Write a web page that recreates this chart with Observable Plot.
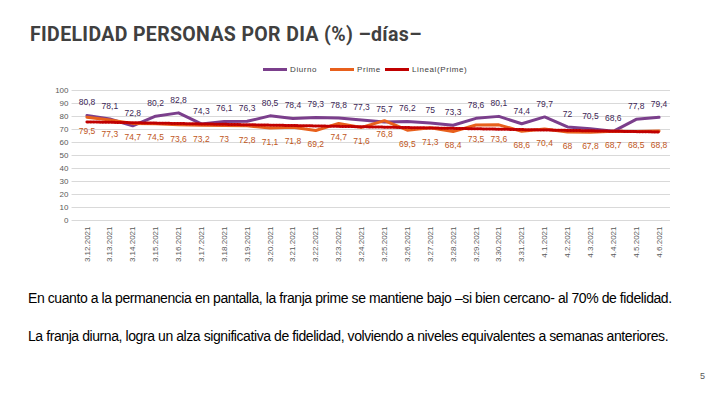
<!DOCTYPE html>
<html><head><meta charset="utf-8">
<script src="https://cdn.jsdelivr.net/npm/d3@7"></script>
<script src="https://cdn.jsdelivr.net/npm/@observablehq/plot@0.6"></script>
<style>
body{margin:0;background:#fff;width:720px;height:405px;position:relative;overflow:hidden;font-family:"Liberation Sans",Arial,sans-serif;}
#title{position:absolute;left:30px;top:23px;font-family:Roboto,"Liberation Sans",sans-serif;font-weight:700;font-size:19.5px;color:#404040;letter-spacing:0.35px;}
#legend{position:absolute;top:65px;left:0;width:720px;font-size:8px;color:#404040;letter-spacing:0.6px;}
.lg{position:absolute;display:flex;align-items:center;}
.sw{display:inline-block;width:24px;height:3px;margin-right:3px;}
#chart{position:absolute;left:0;top:80px;}
.p{position:absolute;left:28px;font-size:14px;color:#000;letter-spacing:-0.42px;}
#pg{position:absolute;left:700px;top:371px;font-size:9px;color:#595959;}
</style></head><body>
<div id="title">FIDELIDAD PERSONAS POR DIA (%) –días–</div>
<div id="legend">
<div class="lg" style="left:263px"><span class="sw" style="background:#7b3f8c"></span>Diurno</div>
<div class="lg" style="left:330px"><span class="sw" style="background:#e8601c"></span>Prime</div>
<div class="lg" style="left:385px"><span class="sw" style="background:#c00000"></span>Lineal(Prime)</div>
</div>
<div id="chart"></div>
<div class="p" style="top:290px">En cuanto a la permanencia en pantalla, la franja prime se mantiene bajo –si bien cercano- al 70% de fidelidad.</div>
<div class="p" style="top:328px">La franja diurna, logra un alza significativa de fidelidad, volviendo a niveles equivalentes a semanas anteriores.</div>
<div id="pg">5</div>
<script>
const dates = ["3.12.2021","3.13.2021","3.14.2021","3.15.2021","3.16.2021","3.17.2021","3.18.2021","3.19.2021","3.20.2021","3.21.2021","3.22.2021","3.23.2021","3.24.2021","3.25.2021","3.26.2021","3.27.2021","3.28.2021","3.29.2021","3.30.2021","3.31.2021","4.1.2021","4.2.2021","4.3.2021","4.4.2021","4.5.2021","4.6.2021"];
const diurno = [80.8,78.1,72.8,80.2,82.8,74.3,76.1,76.3,80.5,78.4,79.3,78.8,77.3,75.7,76.2,75,73.3,78.6,80.1,74.4,79.7,72,70.5,68.6,77.8,79.4];
const prime = [79.5,77.3,74.7,74.5,73.6,73.2,73,72.8,71.1,71.8,69.2,74.7,71.6,76.8,69.5,71.3,68.4,73.5,73.6,68.6,70.4,68,67.8,68.7,68.5,68.8];
const yTicks = [0,10,20,30,40,50,60,70,80,90,100];

const dD = diurno.map((v,i)=>({i,v}));
const dP = prime.map((v,i)=>({i,v}));
const fmt = v => String(v).replace(".", ",");

const chart = Plot.plot({
  width:720, height:195,
  marginLeft:75, marginRight:50, marginTop:10, marginBottom:55,
  style:{fontFamily:"Liberation Sans, Arial, sans-serif", fontSize:"8px", color:"#595959"},
  x:{type:"linear", domain:[-0.5,25.5], ticks:d3.range(26), tickFormat:i=>dates[i], tickRotate:-90, tickSize:0, label:null, tickPadding:6},
  y:{domain:[0,100], ticks:yTicks, tickSize:0, label:null, tickPadding:7},
  marks:[
    Plot.ruleY(yTicks, {stroke:"#d9d9d9", strokeWidth:1, x1:-0.65, x2:25.5}),
    Plot.line(dD, {x:"i", y:"v", stroke:"#7b3f8c", strokeWidth:3}),
    Plot.line(dP, {x:"i", y:"v", stroke:"#e8601c", strokeWidth:3}),
    Plot.linearRegressionY(dP, {x:"i", y:"v", stroke:"#c00000", strokeWidth:3, strokeDasharray:"1.5,1.5", ci:0, strokeOpacity:1}),
    Plot.text(dD, {x:"i", y:"v", text:d=>fmt(d.v), dy:-13, fill:"#3d1f55", fontSize:8.5}),
    Plot.text(dP, {x:"i", y:"v", text:d=>fmt(d.v), dy:14, fill:"#c0561a", fontSize:8.5})
  ]
});
document.getElementById("chart").appendChild(chart);
</script>
</body></html>
